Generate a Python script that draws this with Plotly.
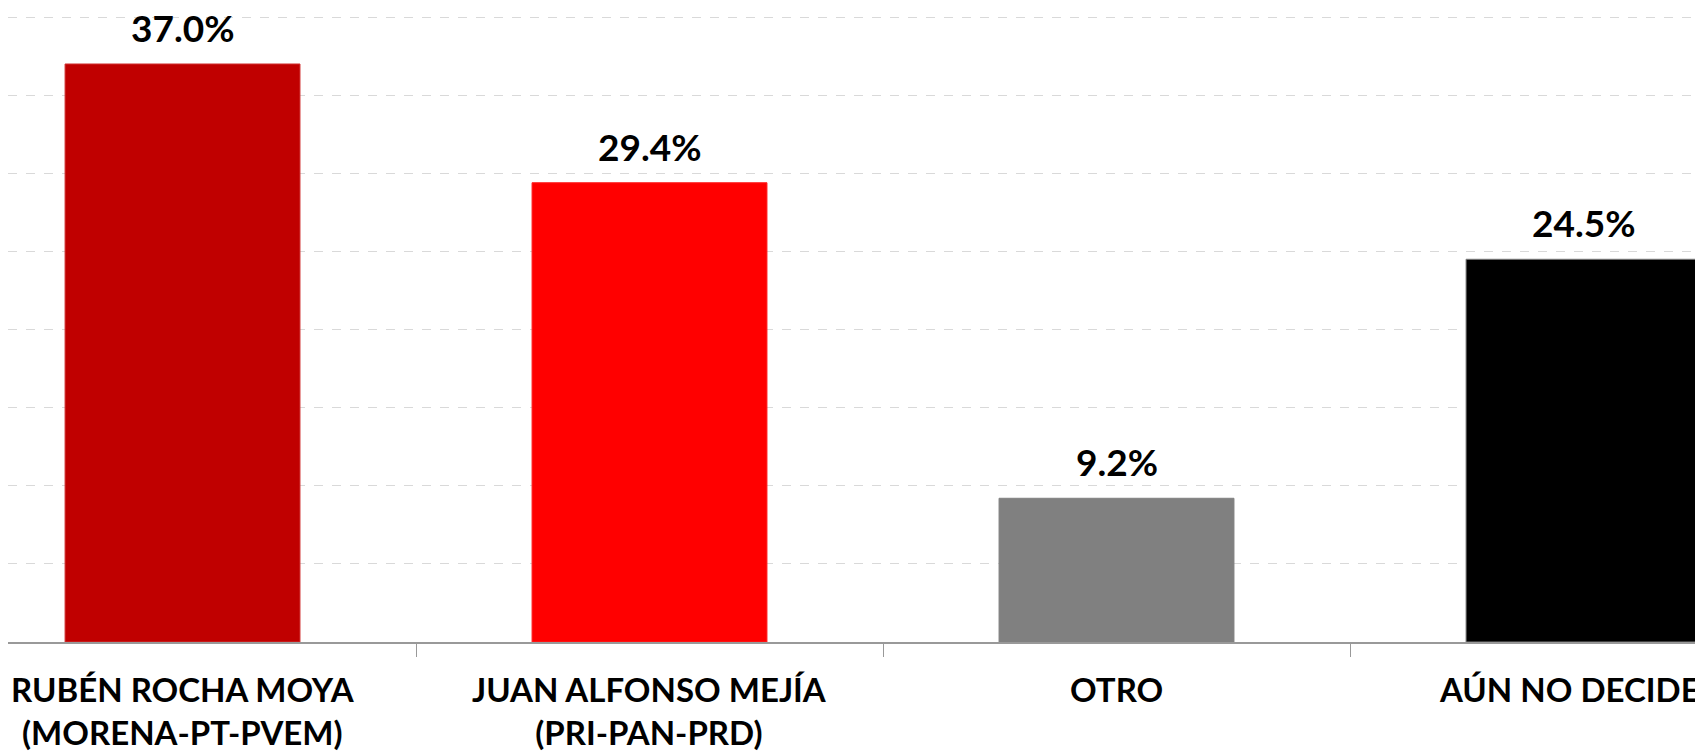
import plotly.graph_objects as go

# datos de la encuesta
candidatos = ["RUBÉN ROCHA MOYA<br>(MORENA-PT-PVEM)",
              "JUAN ALFONSO MEJÍA<br>(PRI-PAN-PRD)",
              "OTRO",
              "AÚN NO DECIDE"]
porcentajes = [37.0, 29.4, 9.2, 24.5]
colores = ["#C00000", "#FF0000", "#808080", "#000000"]
bordes = ["#D03030", "#FF2020", "#808080", "#7F7F7F"]

fig = go.Figure()
fig.add_trace(go.Bar(
    x=candidatos,
    y=porcentajes,
    width=0.503,
    marker=dict(color=colores, line=dict(color=bordes, width=1)),
    hoverinfo="skip",
))

# etiquetas de valor encima de cada barra
for c, v in zip(candidatos, porcentajes):
    fig.add_annotation(
        x=c, y=v, text=f"{v:.1f}%",
        showarrow=False, yanchor="bottom", yshift=12,
        font=dict(family="Lato", size=37, color="black", weight="bold"),
    )

# nombres bajo el eje (la última queda pegada al borde derecho)
for i, c in enumerate(candidatos):
    fig.add_annotation(
        x=c, y=0, text=c, align="center",
        showarrow=False, yanchor="top", yshift=-25,
        xshift=-14 if i == len(candidatos) - 1 else 0,
        font=dict(family="Lato", size=33, color="black", weight="bold"),
    )

# la página tiene 8px de margen en el body: se compensa en márgenes y rango
fig.update_layout(
    width=1703, height=752,
    margin=dict(l=0, r=0, t=6, b=118, autoexpand=False),
    plot_bgcolor="white", paper_bgcolor="white",
    showlegend=False,
    font=dict(family="Lato", color="black"),
)
fig.update_xaxes(
    range=[-0.3737, 3.273], automargin=False,
    showline=True, linecolor="#999999", linewidth=1.5,
    ticks="outside", tickson="boundaries", ticklen=13, tickcolor="#999999",
    showticklabels=False, showgrid=False,
)
fig.update_yaxes(
    range=[0, 40.2], dtick=5, automargin=False,
    showgrid=True, gridcolor="#D9D9D9", griddash="dash", gridwidth=1,
    showticklabels=False, zeroline=False,
)

fig.write_html("out.html")
